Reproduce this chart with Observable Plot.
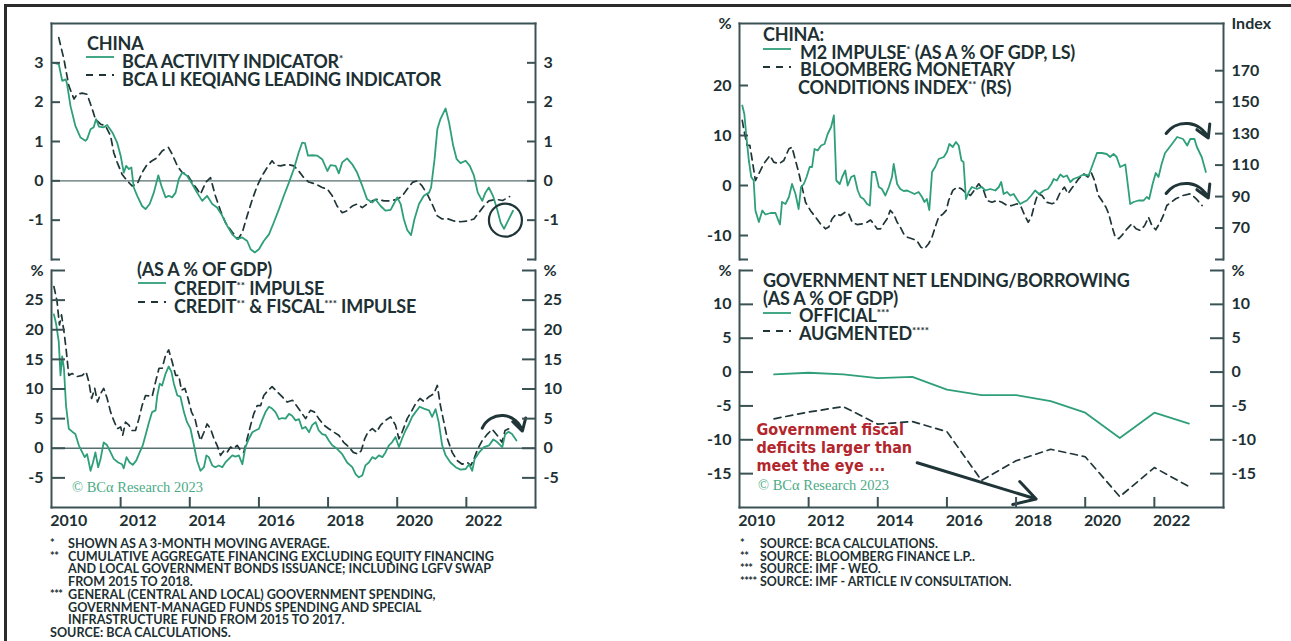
<!DOCTYPE html>
<html><head><meta charset="utf-8">
<script src="https://cdn.jsdelivr.net/npm/d3@7"></script>
<script src="https://cdn.jsdelivr.net/npm/@observablehq/plot@0.6"></script>
<style>
body{margin:0;background:#fff;width:1291px;height:641px;overflow:hidden;position:relative;font-family:Lato,"Open Sans",sans-serif;color:#1d3033}
.abs{position:absolute}
.leg{position:absolute;font-weight:700;font-size:18px;white-space:nowrap;letter-spacing:-0.2px;color:#1d3033}
.sup{font-size:10px;position:relative;top:-6px;letter-spacing:0;line-height:0}
.fn{position:absolute;font-weight:700;font-size:12.6px;line-height:12.7px;white-space:nowrap;letter-spacing:0;color:#1d3033}
.m{display:inline-block;width:18px;font-size:11px;letter-spacing:-0.5px;vertical-align:top;position:relative;top:-1px}
.copy{position:absolute;font-family:"Liberation Serif","DejaVu Serif",serif;font-size:14.5px;line-height:16px;color:#4cab86;white-space:nowrap}
</style></head>
<body>
<div id="root"></div>
<script>
// ---------------- DATA ----------------
const activity = [[2010.07,3.0],[2010.21,2.97],[2010.31,2.54],[2010.41,2.58],[2010.45,2.46],[2010.55,1.9],[2010.69,1.4],[2010.84,1.1],[2010.98,1.02],[2011.03,1.06],[2011.13,1.31],[2011.22,1.36],[2011.29,1.57],[2011.37,1.38],[2011.51,1.36],[2011.61,1.42],[2011.76,1.23],[2011.90,0.97],[2012.00,0.64],[2012.09,0.21],[2012.16,0.38],[2012.24,0.30],[2012.31,0.34],[2012.38,-0.17],[2012.48,-0.38],[2012.62,-0.64],[2012.72,-0.72],[2012.84,-0.59],[2012.96,-0.30],[2013.09,0.14],[2013.18,-0.13],[2013.30,-0.42],[2013.39,-0.38],[2013.49,-0.42],[2013.59,-0.30],[2013.68,0.04],[2013.78,0.21],[2013.92,0.13],[2014.07,-0.08],[2014.21,-0.30],[2014.36,-0.51],[2014.50,-0.38],[2014.65,-0.59],[2014.79,-0.68],[2014.94,-0.89],[2015.08,-1.14],[2015.23,-1.36],[2015.37,-1.48],[2015.52,-1.44],[2015.66,-1.53],[2015.76,-1.74],[2015.88,-1.82],[2016.00,-1.74],[2016.14,-1.53],[2016.29,-1.36],[2016.43,-1.06],[2016.58,-0.72],[2016.72,-0.38],[2016.87,-0.04],[2017.01,0.30],[2017.15,0.72],[2017.25,0.97],[2017.33,0.96],[2017.42,0.64],[2017.54,0.65],[2017.69,0.64],[2017.83,0.55],[2017.98,0.25],[2018.07,0.40],[2018.22,0.38],[2018.31,0.19],[2018.41,0.47],[2018.55,0.57],[2018.70,0.42],[2018.84,0.21],[2018.99,-0.13],[2019.13,-0.47],[2019.28,-0.55],[2019.37,-0.47],[2019.52,-0.64],[2019.66,-0.76],[2019.81,-0.74],[2019.90,-0.59],[2020.00,-0.42],[2020.10,-0.59],[2020.19,-0.97],[2020.29,-1.25],[2020.40,-1.38],[2020.50,-0.97],[2020.63,-0.59],[2020.77,-0.38],[2020.92,-0.30],[2020.98,-0.17],[2021.08,0.55],[2021.16,1.31],[2021.25,1.57],[2021.40,1.84],[2021.50,1.48],[2021.62,0.89],[2021.72,0.55],[2021.83,0.45],[2021.98,0.51],[2022.10,0.38],[2022.22,0.13],[2022.33,-0.30],[2022.46,-0.51],[2022.55,-0.30],[2022.65,-0.17],[2022.77,-0.38],[2022.89,-0.72],[2022.99,-1.06],[2023.09,-1.22],[2023.35,-0.76]];

const leading = [[2010.21,3.64],[2010.36,3.09],[2010.50,2.42],[2010.65,2.08],[2010.74,2.20],[2010.89,2.23],[2011.03,2.20],[2011.18,1.82],[2011.27,1.57],[2011.42,1.44],[2011.56,1.40],[2011.71,1.14],[2011.80,0.72],[2011.90,0.47],[2012.04,0.17],[2012.19,0.0],[2012.33,-0.13],[2012.48,-0.08],[2012.62,0.21],[2012.77,0.42],[2012.91,0.51],[2013.06,0.59],[2013.20,0.76],[2013.38,0.85],[2013.49,0.68],[2013.64,0.38],[2013.78,0.21],[2013.92,0.17],[2014.07,-0.04],[2014.21,-0.21],[2014.31,-0.34],[2014.46,-0.04],[2014.60,0.08],[2014.74,-0.38],[2014.89,-0.76],[2015.03,-1.06],[2015.23,-1.31],[2015.40,-1.48],[2015.52,-1.31],[2015.66,-0.89],[2015.81,-0.47],[2015.95,-0.13],[2016.09,0.13],[2016.24,0.34],[2016.38,0.51],[2016.48,0.40],[2016.62,0.38],[2016.82,0.42],[2017.01,0.38],[2017.15,0.25],[2017.30,0.08],[2017.44,-0.03],[2017.64,-0.08],[2017.83,-0.17],[2017.98,-0.21],[2018.12,-0.38],[2018.26,-0.64],[2018.41,-0.81],[2018.55,-0.76],[2018.70,-0.64],[2018.84,-0.59],[2018.99,-0.68],[2019.13,-0.59],[2019.28,-0.51],[2019.42,-0.47],[2019.62,-0.51],[2019.81,-0.51],[2020.00,-0.47],[2020.15,-0.38],[2020.29,-0.21],[2020.44,-0.04],[2020.58,0.0],[2020.72,-0.13],[2020.87,-0.34],[2021.01,-0.59],[2021.16,-0.89],[2021.30,-0.97],[2021.45,-0.96],[2021.64,-1.02],[2021.83,-1.04],[2022.03,-1.02],[2022.22,-0.97],[2022.36,-0.81],[2022.51,-0.64],[2022.65,-0.51],[2022.85,-0.47],[2023.05,-0.50],[2023.25,-0.40]];

const creditImpulse = [[2010.07,22.6],[2010.13,21.1],[2010.21,18.0],[2010.26,12.3],[2010.31,15.5],[2010.36,13.5],[2010.42,7.2],[2010.50,3.3],[2010.60,2.8],[2010.69,2.4],[2010.79,0.5],[2010.89,-0.7],[2010.96,-1.5],[2011.03,-1.0],[2011.13,-3.8],[2011.20,-2.4],[2011.27,-0.7],[2011.35,-3.2],[2011.42,-1.8],[2011.51,1.0],[2011.61,0.5],[2011.71,-0.7],[2011.80,-1.8],[2011.93,-2.4],[2012.04,-2.7],[2012.09,-3.4],[2012.17,-1.5],[2012.26,-2.4],[2012.35,-2.8],[2012.45,-2.1],[2012.55,-0.7],[2012.64,0.5],[2012.72,2.2],[2012.82,4.4],[2012.91,6.1],[2013.01,6.4],[2013.06,8.9],[2013.13,10.9],[2013.20,10.6],[2013.30,12.6],[2013.39,13.8],[2013.47,12.9],[2013.54,10.9],[2013.64,8.9],[2013.73,8.7],[2013.83,6.1],[2013.92,4.4],[2014.02,3.3],[2014.12,0.5],[2014.21,-2.1],[2014.31,-3.8],[2014.41,-3.2],[2014.48,-1.2],[2014.55,-1.5],[2014.65,-2.9],[2014.74,-3.2],[2014.84,-2.9],[2014.94,-3.2],[2015.03,-2.4],[2015.13,-1.8],[2015.23,-1.2],[2015.32,-1.4],[2015.42,-1.2],[2015.52,-2.7],[2015.61,0.2],[2015.71,1.6],[2015.81,2.7],[2015.90,3.0],[2016.00,3.3],[2016.09,4.7],[2016.19,6.1],[2016.29,7.0],[2016.38,6.7],[2016.48,6.1],[2016.58,4.9],[2016.67,5.1],[2016.77,5.0],[2016.87,5.8],[2016.96,5.5],[2017.06,4.7],[2017.16,4.9],[2017.25,3.3],[2017.35,3.6],[2017.45,2.7],[2017.54,3.9],[2017.64,4.4],[2017.73,3.0],[2017.83,2.4],[2017.93,2.2],[2018.02,1.3],[2018.12,0.5],[2018.26,-0.1],[2018.41,-1.0],[2018.55,-2.4],[2018.70,-3.2],[2018.80,-4.4],[2018.89,-4.9],[2018.99,-4.6],[2019.08,-2.9],[2019.18,-2.4],[2019.28,-1.5],[2019.37,-1.8],[2019.47,-1.2],[2019.57,-1.5],[2019.66,-0.7],[2019.76,0.5],[2019.85,1.0],[2019.95,1.9],[2020.05,0.2],[2020.14,1.6],[2020.24,3.0],[2020.34,4.1],[2020.43,5.3],[2020.53,6.1],[2020.65,7.0],[2020.77,6.7],[2020.92,6.4],[2021.01,5.3],[2021.11,6.6],[2021.20,4.4],[2021.30,0.5],[2021.40,-1.2],[2021.54,-2.4],[2021.69,-3.2],[2021.83,-3.6],[2021.98,-3.5],[2022.08,-2.7],[2022.17,-3.8],[2022.24,-1.8],[2022.37,-0.7],[2022.51,0.2],[2022.66,0.5],[2022.78,1.5],[2022.90,1.0],[2023.04,0.2],[2023.12,2.3],[2023.22,2.8],[2023.32,2.4],[2023.45,1.3]];

const creditFiscal = [[2010.07,27.3],[2010.16,24.8],[2010.23,20.8],[2010.29,22.5],[2010.36,19.7],[2010.42,16.9],[2010.50,12.3],[2010.60,12.6],[2010.74,12.1],[2010.89,12.3],[2011.00,12.9],[2011.08,11.2],[2011.16,8.4],[2011.25,10.1],[2011.33,7.8],[2011.42,9.2],[2011.51,10.1],[2011.61,8.4],[2011.71,6.1],[2011.80,4.7],[2011.90,3.3],[2012.00,3.6],[2012.06,2.2],[2012.14,4.4],[2012.24,3.9],[2012.33,3.0],[2012.43,3.0],[2012.53,5.0],[2012.62,7.2],[2012.72,8.9],[2012.84,8.8],[2012.91,8.7],[2013.01,11.2],[2013.11,13.5],[2013.20,13.5],[2013.30,15.7],[2013.39,16.6],[2013.49,14.6],[2013.59,12.3],[2013.68,12.3],[2013.76,9.8],[2013.86,10.1],[2013.95,8.4],[2014.05,6.1],[2014.15,5.0],[2014.24,2.7],[2014.31,1.3],[2014.41,2.7],[2014.50,4.1],[2014.60,3.3],[2014.70,1.6],[2014.79,0.5],[2014.89,-1.2],[2014.99,-0.4],[2015.08,-0.7],[2015.18,0.2],[2015.27,-0.1],[2015.37,0.5],[2015.47,-0.4],[2015.56,-0.7],[2015.66,1.6],[2015.76,3.9],[2015.85,5.8],[2015.95,7.2],[2016.05,7.2],[2016.14,8.9],[2016.27,9.8],[2016.38,10.4],[2016.53,9.5],[2016.67,8.7],[2016.82,7.8],[2016.97,8.1],[2017.11,7.0],[2017.22,6.1],[2017.35,5.0],[2017.49,6.4],[2017.61,6.1],[2017.73,5.0],[2017.88,3.9],[2018.02,3.3],[2018.17,2.7],[2018.31,2.2],[2018.45,1.0],[2018.60,0.2],[2018.73,-0.7],[2018.87,-1.0],[2018.96,-0.4],[2019.06,1.6],[2019.15,2.7],[2019.28,3.3],[2019.40,2.7],[2019.52,3.9],[2019.66,4.7],[2019.81,5.3],[2019.95,3.9],[2020.05,1.6],[2020.14,2.7],[2020.29,5.0],[2020.40,6.1],[2020.53,7.5],[2020.66,8.4],[2020.77,7.9],[2020.92,8.7],[2021.06,9.2],[2021.16,10.6],[2021.25,7.2],[2021.35,4.4],[2021.45,1.6],[2021.59,-0.7],[2021.74,-2.1],[2021.88,-2.7],[2022.03,-2.4],[2022.13,-2.9],[2022.22,-1.8],[2022.33,-0.1],[2022.46,1.3],[2022.61,2.4],[2022.75,3.2],[2022.89,2.2],[2023.03,1.0],[2023.12,3.0],[2023.30,3.5]];

const m2Impulse = [[2010.08,16.0],[2010.14,14.3],[2010.20,9.7],[2010.27,5.0],[2010.34,1.7],[2010.41,1.0],[2010.46,-5.0],[2010.56,-7.3],[2010.66,-5.0],[2010.75,-5.8],[2010.90,-5.5],[2011.04,-5.5],[2011.17,-7.8],[2011.23,-3.3],[2011.33,-3.7],[2011.43,-2.3],[2011.52,0.3],[2011.62,-1.7],[2011.71,-4.7],[2011.78,-0.3],[2011.86,0.3],[2011.94,1.7],[2012.03,3.7],[2012.10,3.7],[2012.17,7.3],[2012.26,7.0],[2012.36,8.0],[2012.46,8.3],[2012.55,10.3],[2012.65,11.7],[2012.73,14.0],[2012.80,1.0],[2012.90,0.3],[2012.97,1.7],[2013.06,3.0],[2013.13,0.0],[2013.23,1.7],[2013.32,2.0],[2013.42,-1.0],[2013.50,-2.3],[2013.59,-2.7],[2013.69,-3.7],[2013.77,-4.0],[2013.83,2.7],[2013.93,2.7],[2014.03,-0.3],[2014.12,-0.7],[2014.22,-2.0],[2014.32,-0.3],[2014.41,1.7],[2014.46,4.3],[2014.56,0.3],[2014.65,-0.7],[2014.75,-1.1],[2014.85,-1.0],[2014.94,-1.3],[2015.06,-1.7],[2015.18,-1.3],[2015.28,-2.3],[2015.35,-3.3],[2015.42,-2.7],[2015.49,-4.9],[2015.57,2.7],[2015.66,3.7],[2015.76,5.3],[2015.91,5.7],[2016.00,6.7],[2016.07,8.3],[2016.17,7.7],[2016.26,8.7],[2016.34,8.0],[2016.42,5.0],[2016.48,4.7],[2016.55,-2.7],[2016.63,-1.3],[2016.72,-0.3],[2016.87,-0.7],[2017.01,-0.3],[2017.11,-1.0],[2017.25,-0.7],[2017.40,-1.0],[2017.50,-0.3],[2017.57,0.7],[2017.64,-1.7],[2017.74,-1.3],[2017.83,-2.0],[2017.93,-1.7],[2018.02,-2.7],[2018.12,-3.7],[2018.22,-3.3],[2018.31,-3.0],[2018.44,-2.0],[2018.55,-1.0],[2018.67,-1.7],[2018.80,-1.0],[2018.92,-0.7],[2019.02,0.3],[2019.09,1.3],[2019.18,1.0],[2019.28,2.2],[2019.37,1.7],[2019.47,2.0],[2019.57,0.7],[2019.66,1.3],[2019.81,1.7],[2019.95,2.2],[2020.10,2.0],[2020.19,3.7],[2020.34,6.5],[2020.48,6.5],[2020.62,6.3],[2020.72,5.7],[2020.82,6.3],[2020.91,5.7],[2021.01,3.7],[2021.16,4.2],[2021.23,0.3],[2021.30,-3.7],[2021.40,-3.3],[2021.54,-3.0],[2021.69,-3.0],[2021.78,-2.3],[2021.85,-2.7],[2021.95,0.3],[2022.04,2.5],[2022.12,1.7],[2022.21,4.3],[2022.31,6.5],[2022.51,8.3],[2022.66,9.7],[2022.83,9.3],[2022.95,8.0],[2023.04,9.3],[2023.16,9.3],[2023.23,7.7],[2023.37,5.7],[2023.49,2.7]];

const monetaryIndex = [[2010.08,138.4],[2010.13,132],[2010.22,122.5],[2010.30,122.5],[2010.37,112.9],[2010.46,100.2],[2010.56,104.5],[2010.70,110.8],[2010.88,116.1],[2010.99,111.9],[2011.14,110.8],[2011.28,112.9],[2011.43,120.4],[2011.52,121.4],[2011.62,112.9],[2011.71,105.5],[2011.81,96],[2011.91,86.4],[2012.05,81.2],[2012.20,76.9],[2012.34,72.7],[2012.49,69.5],[2012.58,70.6],[2012.68,75.9],[2012.80,79],[2012.92,78],[2013.06,80.1],[2013.16,79],[2013.26,73.7],[2013.40,72.2],[2013.55,72.7],[2013.69,73.7],[2013.79,75.1],[2013.88,72.7],[2013.98,69.5],[2014.08,69.5],[2014.17,72.7],[2014.27,75.9],[2014.36,81.2],[2014.46,79],[2014.56,73.7],[2014.65,70.6],[2014.75,66.3],[2014.85,64.2],[2014.99,63.2],[2015.13,62.1],[2015.25,57.8],[2015.35,56.8],[2015.47,60],[2015.57,64.2],[2015.66,70.6],[2015.76,76.9],[2015.89,79],[2015.98,81.2],[2016.05,87.5],[2016.17,93.9],[2016.29,96],[2016.42,94.9],[2016.53,92.8],[2016.68,90.7],[2016.82,94.9],[2016.92,98.1],[2017.06,93.9],[2017.16,87.5],[2017.30,86.4],[2017.45,87.5],[2017.59,86.4],[2017.74,84.3],[2017.88,84.3],[2018.03,85.4],[2018.15,83.2],[2018.25,78],[2018.35,73.7],[2018.44,76.9],[2018.54,85.4],[2018.63,91.8],[2018.75,90.7],[2018.89,86.4],[2019.04,85.4],[2019.15,86.4],[2019.28,92.8],[2019.40,96],[2019.50,91.8],[2019.60,94.9],[2019.71,98.1],[2019.81,101.3],[2019.95,104.5],[2020.08,102.4],[2020.17,105.5],[2020.27,100.2],[2020.38,90.7],[2020.48,87.5],[2020.60,83.2],[2020.68,79],[2020.78,70.6],[2020.87,64.2],[2020.97,63.2],[2021.06,65.3],[2021.21,69.5],[2021.35,72.7],[2021.47,69.5],[2021.59,68.5],[2021.72,71.6],[2021.83,76.9],[2021.93,71.6],[2022.04,68.9],[2022.17,73.7],[2022.26,78],[2022.36,84.3],[2022.50,86.6],[2022.62,88.6],[2022.83,90.7],[2023.05,91.8],[2023.21,88.6],[2023.38,84.3]];

const fiscalYears = [2011,2012,2013,2014,2015,2016,2017,2018,2019,2020,2021,2022,2023];
const officialBalance = [-0.35,-0.1,-0.35,-0.9,-0.7,-2.6,-3.4,-3.4,-4.3,-6.0,-9.75,-6.0,-7.6];
const augmentedBalance = [-6.9,-5.9,-5.1,-7.7,-7.3,-8.8,-16.0,-13.1,-11.4,-12.5,-18.4,-14.1,-16.9];

// tick values
const yearTicks = [2012,2014,2016,2018,2020,2022];
const yearLabels = [2010,2012,2014,2016,2018,2020,2022];
const tlTicks = [-2,-1,0,1,2,3];
const tlLabels = [-1,0,1,2,3];
const blTicks = [-5,0,5,10,15,20,25,30];
const blLabels = [-5,0,5,10,15,20,25,30];
const trLeftTicks = [-10,0,10,20];
const trRightTicks = [70,90,110,130,150,170];
const brTicks = [-15,-10,-5,0,5,10,15];
const brLabels = [-15,-10,-5,0,5,10,15];

// annotations (data coordinates)
const circleMark = [[2023.13,-1.0]];
const m2Arrows = [{x1:2022.34,y1:10.4,x2:2023.56,y2:9.5},{x1:2022.34,y1:-1.6,x2:2023.56,y2:-2.5}];
const creditArrow = [{x1:2022.46,y1:3.4,x2:2023.62,y2:2.9}];
const fiscalArrow = [{x1:2015.14,y1:-13.4,x2:2018.58,y2:-18.75}];
const fiscalNote = [{x:2010.49,y:-7.4,text:"Government fiscal\ndeficits larger than\nmeet the eye ..."}];

// ---------------- STYLE ----------------
const FRAME="#3b5254", GREEN="#2f9f79", DASH="#1f3538", TEXT="#1d3033", RED="#b3262c", ZERO="#56706f";
const X_DOMAIN=[2010,2024];
const TL_DOMAIN=[-2,4], BL_DOMAIN=[-10,30], TR_DOMAIN=[-14.8,32.4], IDX_DOMAIN=[50,200], BR_DOMAIN=[-20,15];
const idxToL = v => TR_DOMAIN[0] + (v-IDX_DOMAIN[0])*(TR_DOMAIN[1]-TR_DOMAIN[0])/(IDX_DOMAIN[1]-IDX_DOMAIN[0]);
const lToIdx = v => IDX_DOMAIN[0] + (v-TR_DOMAIN[0])*(IDX_DOMAIN[1]-IDX_DOMAIN[0])/(TR_DOMAIN[1]-TR_DOMAIN[0]);

function yAxes(ticks, labels, fmt, anchor, len){
  return [
    Plot.axisY(ticks,{anchor,tickSize:-len,tickFormat:()=> "",stroke:FRAME,strokeWidth:2}),
    Plot.axisY(labels,{anchor,tickSize:0,tickPadding:8,tickFormat:fmt,fill:TEXT})
  ];
}
function xAxisBottom(){
  return [
    Plot.axisX(yearTicks,{anchor:"bottom",tickSize:-10,tickFormat:()=>"",stroke:FRAME,strokeWidth:2}),
    Plot.text(yearLabels,{x:d=>d+0.5,frameAnchor:"bottom",dy:18,text:d=>String(d),fontSize:16,fontWeight:700,fill:TEXT})
  ];
}
function sides(list){ return list.map(a => Plot.frame({anchor:a,stroke:FRAME,strokeWidth:2})); }
function panel({left,top,width,height,mt,mb,ml,mr,yDomain,marks}){
  const svg = Plot.plot({width,height,marginTop:mt,marginBottom:mb,marginLeft:ml,marginRight:mr,
    x:{domain:X_DOMAIN,axis:null}, y:{domain:yDomain,axis:null},
    style:{fontFamily:"Lato, 'Open Sans', sans-serif",fontWeight:700,fontSize:"16px",color:TEXT,background:"transparent",overflow:"visible"},
    marks});
  svg.style.position="absolute"; svg.style.left=left+"px"; svg.style.top=top+"px";
  document.getElementById("root").appendChild(svg);
}
const solid = (data, y=d=>d[1]) => Plot.line(data,{x:d=>d[0],y,stroke:GREEN,strokeWidth:1.8});
const dashed = (data, y=d=>d[1]) => Plot.line(data,{x:d=>d[0],y,stroke:DASH,strokeWidth:1.7,strokeDasharray:"7,5"});

// Top-left
panel({left:0,top:0,width:600,height:262,mt:23,mb:3,ml:51,mr:65,yDomain:TL_DOMAIN,marks:[
  Plot.ruleY([0],{stroke:ZERO,strokeWidth:1.3}),
  dashed(leading), solid(activity),
  Plot.dot(circleMark,{x:d=>d[0],y:d=>d[1],r:16.5,stroke:DASH,strokeWidth:2.2,fill:"none"}),
  ...yAxes(tlTicks,tlLabels,d=>String(d),"left",9),
  ...yAxes(tlTicks,tlLabels,d=>String(d),"right",9),
  ...sides(["top","left","right"])
]});
// Bottom-left
const pctFmt30 = d => d===30 ? "%" : String(d);
panel({left:0,top:262,width:600,height:283,mt:8,mb:38,ml:51,mr:65,yDomain:BL_DOMAIN,marks:[
  Plot.ruleY([0],{stroke:ZERO,strokeWidth:1.3}),
  dashed(creditFiscal), solid(creditImpulse),
  Plot.arrow(creditArrow,{x1:"x1",y1:"y1",x2:"x2",y2:"y2",bend:70,stroke:DASH,strokeWidth:3,headLength:9}),
  ...yAxes(blTicks,blLabels,pctFmt30,"left",14),
  ...yAxes(blTicks,blLabels,pctFmt30,"right",14),
  ...xAxisBottom(),
  ...sides(["bottom","left","right"])
]});
// Top-right
panel({left:660,top:0,width:631,height:262,mt:23,mb:3,ml:79,mr:68,yDomain:TR_DOMAIN,marks:[
  dashed(monetaryIndex,d=>idxToL(d[1])), solid(m2Impulse),
  Plot.arrow(m2Arrows,{x1:"x1",y1:"y1",x2:"x2",y2:"y2",bend:60,stroke:DASH,strokeWidth:3,headLength:9}),
  ...yAxes([TR_DOMAIN[0],...trLeftTicks],[...trLeftTicks,TR_DOMAIN[1]],d=>d===TR_DOMAIN[1]?"%":String(d),"left",9),
  ...yAxes([TR_DOMAIN[0],...trRightTicks.map(idxToL)],[...trRightTicks,IDX_DOMAIN[1]].map(idxToL),d=>{const v=Math.round(lToIdx(d));return v===IDX_DOMAIN[1]?"Index":String(v);},"right",9),
  ...sides(["top","left","right"])
]});
// Bottom-right
const pctFmt15 = d => d===15 ? "%" : String(d);
const fiscal = fiscalYears.map((y,i)=>({year:y,official:officialBalance[i],augmented:augmentedBalance[i]}));
panel({left:660,top:262,width:631,height:283,mt:8,mb:38,ml:79,mr:68,yDomain:BR_DOMAIN,marks:[
  Plot.line(fiscal,{x:"year",y:"augmented",stroke:DASH,strokeWidth:1.7,strokeDasharray:"7,5"}),
  Plot.line(fiscal,{x:"year",y:"official",stroke:GREEN,strokeWidth:1.8}),
  Plot.text(fiscalNote,{x:"x",y:"y",text:"text",textAnchor:"start",lineAnchor:"top",lineHeight:1.12,fontSize:16,fontWeight:700,fill:RED,fontFamily:"'Liberation Sans Narrow','DejaVu Sans Condensed',Roboto,sans-serif"}),
  Plot.arrow(fiscalArrow,{x1:"x1",y1:"y1",x2:"x2",y2:"y2",stroke:DASH,strokeWidth:3,headLength:12}),
  ...yAxes(brTicks,brLabels,pctFmt15,"left",14),
  ...yAxes(brTicks,brLabels,pctFmt15,"right",14),
  ...xAxisBottom(),
  ...sides(["bottom","left","right"])
]});

// ---------------- LEGENDS / TEXT ----------------
const root = document.getElementById("root");
function add(html){ root.insertAdjacentHTML("beforeend", html); }
function sample(x,y,dash){
  return `<svg class="abs" style="left:${x}px;top:${y-4}px" width="28" height="8"><line x1="0" x2="28" y1="4" y2="4" stroke="${dash?DASH:GREEN}" stroke-width="1.8" ${dash?'stroke-dasharray="7,6"':''}/></svg>`;
}
const ind = (w, html) => `<span style="padding-left:${w}px">${html}</span>`;
// borders
add(`<div class="abs" style="left:4px;top:4px;width:1287px;height:3px;background:#2b2b2b"></div>`);
add(`<div class="abs" style="left:4px;top:4px;width:3px;height:637px;background:#2b2b2b"></div>`);
// top-left legend (one block)
add(sample(86,57,false)); add(sample(86,75,true));
add(`<div class="leg" style="left:87px;top:34px;line-height:18px">CHINA<br>${ind(35,'BCA ACTIVITY INDICATOR<span class="sup">*</span>')}<br>${ind(35,'BCA LI KEQIANG LEADING INDICATOR')}</div>`);
// bottom-left legend
add(sample(138,283,false)); add(sample(138,302,true));
add(`<div class="leg" style="left:137px;top:260px;line-height:18.5px">(AS A % OF GDP)<br>${ind(37,'CREDIT<span class="sup">**</span> IMPULSE')}<br>${ind(37,'CREDIT<span class="sup">**</span> &amp; FISCAL<span class="sup">***</span> IMPULSE')}</div>`);
add(`<div class="copy" style="left:72px;top:479px">© BCα Research 2023</div>`);
// top-right legend
add(sample(763,49,false)); add(sample(763,67,true));
add(`<div class="leg" style="left:763px;top:26px;line-height:17.7px">CHINA:<br>${ind(37,'M2 IMPULSE<span class="sup">*</span> (AS A % OF GDP, LS)')}<br>${ind(37,'BLOOMBERG MONETARY')}<br>${ind(35,'CONDITIONS INDEX<span class="sup">**</span> (RS)')}</div>`);
// bottom-right legend
add(sample(763,313,false)); add(sample(763,331,true));
add(`<div class="leg" style="left:763px;top:272px;line-height:17.7px">GOVERNMENT NET LENDING/BORROWING<br>(AS A % OF GDP)<br>${ind(36,'OFFICIAL<span class="sup">***</span>')}<br>${ind(36,'AUGMENTED<span class="sup">****</span>')}</div>`);
add(`<div class="copy" style="left:758px;top:477px">© BCα Research 2023</div>`);
// footnotes
add(`<div class="fn" style="left:50px;top:538px">
<div><span class="m">*</span>SHOWN AS A 3-MONTH MOVING AVERAGE.</div>
<div><span class="m">**</span>CUMULATIVE AGGREGATE FINANCING EXCLUDING EQUITY FINANCING</div>
<div><span class="m"></span>AND LOCAL GOVERNMENT BONDS ISSUANCE; INCLUDING LGFV SWAP</div>
<div><span class="m"></span>FROM 2015 TO 2018.</div>
<div><span class="m">***</span>GENERAL (CENTRAL AND LOCAL) GOOVERNMENT SPENDING,</div>
<div><span class="m"></span>GOVERNMENT-MANAGED FUNDS SPENDING AND SPECIAL</div>
<div><span class="m"></span>INFRASTRUCTURE FUND FROM 2015 TO 2017.</div>
<div>SOURCE: BCA CALCULATIONS.</div></div>`);
add(`<div class="fn" style="left:740px;top:538px;line-height:12.5px;font-size:12.4px">
<div><span class="m" style="width:20px">*</span>SOURCE: BCA CALCULATIONS.</div>
<div><span class="m" style="width:20px">**</span>SOURCE: BLOOMBERG FINANCE L.P..</div>
<div><span class="m" style="width:20px">***</span>SOURCE: IMF - WEO.</div>
<div><span class="m" style="width:20px">****</span>SOURCE: IMF - ARTICLE IV CONSULTATION.</div></div>`);
</script>
</body></html>
